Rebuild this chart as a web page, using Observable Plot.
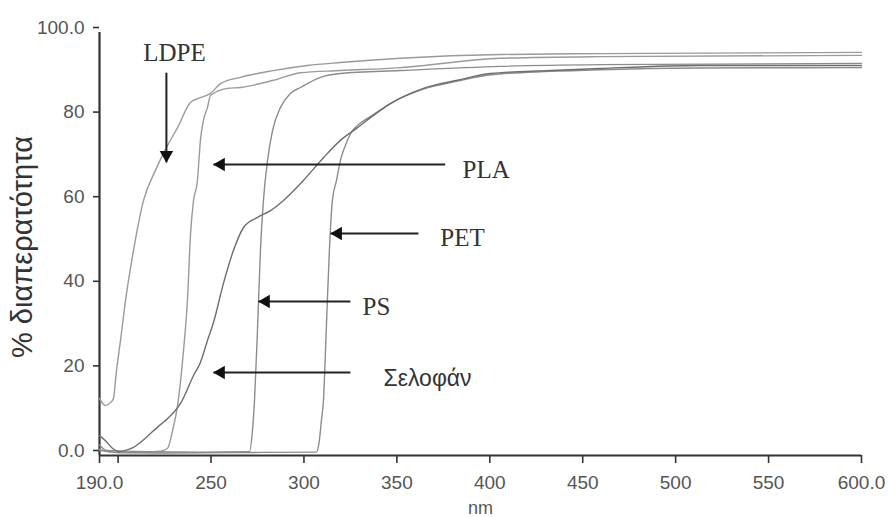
<!DOCTYPE html>
<html>
<head>
<meta charset="utf-8">
<script src="https://cdn.jsdelivr.net/npm/d3@7"></script>
<script src="https://cdn.jsdelivr.net/npm/@observablehq/plot@0.6"></script>
<style>
  html, body { margin: 0; padding: 0; background: #fff; }
  #chart { width: 888px; height: 517px; overflow: hidden; }
</style>
</head>
<body>
<div id="chart"></div>
<script>
// ---- Data (wavelength nm, % transmittance) ----
const ldpe = [[190,13.5],[191.5,12.4],[193.2,11.8],[195.9,12.5],[197.5,13.5],[199.1,19.9],[201.3,27.2],[204.0,36.6],[208.3,48.5],[213.7,60.3],[220.1,67.4],[226.6,73.3],[232.0,77.5],[239.0,83.5],[244.3,84.6],[249.7,85.6],[255.1,87.9],[265.8,89.4],[283.6,91.0],[301.9,92.2],[319.6,92.9],[351.9,93.9],[405.7,94.8],[459.5,95.0],[600,95.3]];
const pla = [[190,1.5],[195,0.9],[206.7,0.7],[222.8,1.0],[226.6,1.7],[229.3,5.9],[232.0,11.8],[235.2,24.8],[237.3,36.6],[239.0,52.5],[240.6,60.3],[242.7,65.0],[244.3,74.5],[245.9,79.2],[248.1,82.3],[249.7,85.1],[258.9,86.8],[265.8,87.0],[283.6,88.7],[298.1,90.5],[319.6,91.0],[351.9,91.7],[405.7,93.9],[459.5,94.3],[600,94.6]];
const ps = [[190,2.5],[194,1.2],[217.4,0.9],[245,0.8],[270.7,0.9],[272.3,5.9],[273.4,13.0],[275.0,29.6],[276.6,48.5],[278.2,60.3],[280.4,69.7],[283.1,76.8],[287.4,82.3],[292.7,85.6],[298.1,87.0],[308.9,89.4],[319.6,90.3],[351.9,91.0],[405.7,92.0],[459.5,92.4],[600,92.7]];
const cellophane = [[190,4.7],[193.2,3.5],[197.0,1.7],[200.2,0.9],[204.0,1.2],[208.3,1.9],[213.1,3.5],[217.4,5.2],[222.8,7.3],[226.6,8.7],[233.6,12.3],[240.6,18.9],[244.3,22.0],[248.1,27.2],[251.3,31.4],[256.7,40.7],[262.1,48.5],[267.5,53.9],[275.0,56.3],[282.0,57.9],[289.0,60.3],[299.7,65.0],[310.5,70.4],[319.6,74.5],[328.8,77.5],[337.4,80.4],[346.5,83.2],[364.3,86.8],[382.6,88.7],[400.3,90.3],[432.6,91.0],[459.5,91.5],[513.3,92.2],[600,92.2]];
const pet = [[190,1.2],[200,0.7],[220,0.6],[260,0.7],[306.7,0.8],[308.3,3.5],[309.4,8.3],[310.5,13.0],[311.6,24.8],[312.6,36.6],[313.7,48.5],[315.3,60.3],[317.5,65.0],[319.6,69.7],[322.3,73.3],[326.1,76.8],[328.8,78.0],[337.4,80.6],[346.5,83.2],[364.3,86.6],[382.6,88.5],[400.3,90.0],[432.6,90.8],[459.5,91.2],[513.3,91.6],[600,91.7]];

const xTicks = [190, 200, 250, 300, 350, 400, 450, 500, 550, 600];
const xTickLabels = ["190.0", "", "250", "300", "350", "400", "450", "500", "550", "600.0"];
const yTicks = [0, 20, 40, 60, 80, 100];
const yTickLabels = ["0.0", "20", "40", "60", "80", "100.0"];

// annotations (data units)
const annNames = ["LDPE", "PLA", "PET", "PS", "Σελοφάν"];
const annTextX = [230.3, 385.3, 373.4, 331.5, 342.8];
const annTextY = [95.2, 67.6, 51.5, 35.0, 18.2];
const arrowTailX = [226, 376, 361.6, 325, 325];
const arrowTailY = [90.5, 68.8, 52.5, 36.4, 19.6];
const arrowTipX = [226, 251.3, 314.3, 275.5, 251.3];
const arrowTipY = [69.3, 68.8, 52.5, 36.4, 19.6];

const toRows = (arr, name) => arr.map(([nm, t]) => ({nm, t, name}));
const series = [
  ...toRows(ldpe, "LDPE"), ...toRows(pla, "PLA"), ...toRows(ps, "PS"),
  ...toRows(pet, "PET"), ...toRows(cellophane, "Σελοφάν")
];
const seriesColor = {"LDPE": "#9a9a9a", "PLA": "#9a9a9a", "PS": "#8c8c8c", "PET": "#8c8c8c", "Σελοφάν": "#6e6e6e"};

const ann = annNames.map((name, i) => ({
  name, tx: annTextX[i], ty: annTextY[i],
  x1: arrowTailX[i], y1: arrowTailY[i], x2: arrowTipX[i], y2: arrowTipY[i]
}));

const plot = Plot.plot({
  width: 888,
  height: 517,
  marginLeft: 99,
  marginRight: 27,
  marginTop: 32,
  marginBottom: 62,
  style: {fontFamily: "'Liberation Sans', Arial, sans-serif", fontSize: "19px", color: "#555", background: "#fff"},
  x: {domain: [190, 600]},
  y: {domain: [0, 100]},
  marks: [
    Plot.axisX({ticks: xTicks, tickFormat: d => xTickLabels[xTicks.indexOf(d)], tickSize: 8, tickPadding: 12, strokeWidth: 1.6, stroke: "#333", fill: "#555", label: null}),
    Plot.axisY({ticks: yTicks, tickFormat: d => yTickLabels[yTicks.indexOf(d)], tickSize: 6, tickPadding: 9, dy: -5, strokeWidth: 1.6, stroke: "#333", fill: "#555", label: null}),
    Plot.ruleX([190], {stroke: "#333", strokeWidth: 2.2}),
    Plot.ruleY([0], {stroke: "#333", strokeWidth: 2.2}),
    Plot.line(series, {x: "nm", y: "t", z: "name", stroke: d => seriesColor[d.name], strokeWidth: 1.4, curve: "monotone-x"}),
    // arrows
    Plot.link(ann, {x1: "x1", y1: "y1", x2: "x2", y2: "y2", stroke: "#222", strokeWidth: 2}),
    Plot.dot(ann.filter(d => d.x1 === d.x2), {x: "x2", y: "y2", symbol: "triangle", r: 5, rotate: 180, dy: -7.5, fill: "#111", stroke: "none"}),
    Plot.dot(ann.filter(d => d.x1 !== d.x2), {x: "x2", y: "y2", symbol: "triangle", r: 5, rotate: -90, dx: 7.5, fill: "#111", stroke: "none"}),
    // labels
    Plot.text(ann.filter(d => d.name === "LDPE"), {x: "tx", y: "ty", text: "name", textAnchor: "middle", fontFamily: "'Liberation Serif', 'Times New Roman', serif", fontSize: 25, fill: "#333"}),
    Plot.text(ann.filter(d => d.name !== "LDPE" && d.name !== "Σελοφάν"), {x: "tx", y: "ty", text: "name", textAnchor: "start", fontFamily: "'Liberation Serif', 'Times New Roman', serif", fontSize: 25, fill: "#333"}),
    Plot.text(ann.filter(d => d.name === "Σελοφάν"), {x: "tx", y: "ty", text: "name", textAnchor: "start", fontFamily: "'Liberation Sans', Arial, sans-serif", fontSize: 23, fill: "#333"}),
    // axis titles
    Plot.text(["% διαπερατότητα"], {frameAnchor: "left", rotate: -90, dx: -77, dy: 3, fontSize: 29, fill: "#333", textAnchor: "middle"}),
    Plot.text(["nm"], {frameAnchor: "bottom", dy: 58, lineAnchor: "bottom", fontSize: 18, fill: "#555", textAnchor: "middle"})
  ]
});
document.getElementById("chart").appendChild(plot);
</script>
</body>
</html>
